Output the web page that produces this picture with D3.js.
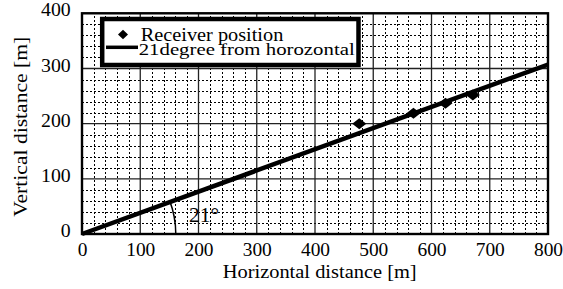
<!DOCTYPE html>
<html><head><meta charset="utf-8">
<script src="https://cdn.jsdelivr.net/npm/d3@7"></script>
<style>body{margin:0;background:#fff}svg{display:block}</style>
</head><body><svg id="c" width="563" height="289"></svg>
<script>
const receiverX = [476, 569, 624, 671];
const receiverY = [200, 219, 237, 252];
const lineAngleDeg = 21;
const lineX = [0, 800];
const xTicks = [0,100,200,300,400,500,600,700,800];
const yTicks = [0,100,200,300,400];
const legendLabels = ["Receiver position", "21degree from horozontal"];
const FONT = "Liberation Serif";

const svg = d3.select("#c");
const x = d3.scaleLinear().domain([0,800]).range([82, 548]);
const y = d3.scaleLinear().domain([0,400]).range([234, 13.3]);

const g = svg.append("g");
d3.range(20,800,20).filter(v=>v%100!==0).forEach(v=>{
  g.append("line").attr("x1",Math.round(x(v))+0.5).attr("x2",Math.round(x(v))+0.5).attr("y1",y(0)).attr("y2",y(400))
   .attr("stroke","#000").attr("stroke-width",1).attr("stroke-dasharray","2,2");
});
d3.range(20,400,20).filter(v=>v%100!==0).forEach(v=>{
  g.append("line").attr("y1",Math.round(y(v))+0.5).attr("y2",Math.round(y(v))+0.5).attr("x1",x(0)).attr("x2",x(800))
   .attr("stroke","#000").attr("stroke-width",1).attr("stroke-dasharray","2,2");
});
xTicks.forEach(v=>{
  g.append("line").attr("x1",x(v)).attr("x2",x(v)).attr("y1",y(0)).attr("y2",y(400))
   .attr("stroke","#222").attr("stroke-width",1.3);
});
yTicks.forEach(v=>{
  g.append("line").attr("y1",y(v)).attr("y2",y(v)).attr("x1",x(0)).attr("x2",x(800))
   .attr("stroke","#222").attr("stroke-width",1.3);
});
g.append("rect").attr("x",x(0)).attr("y",y(400)).attr("width",x(800)-x(0)).attr("height",y(0)-y(400))
 .attr("fill","none").attr("stroke","#000").attr("stroke-width",2.4);

const fmt = d3.format("d");
const xa = svg.append("g").attr("transform",`translate(0,${y(0)})`)
  .call(d3.axisBottom(x).tickValues(xTicks).tickSize(0).tickPadding(9).tickFormat(fmt));
xa.attr("font-family",FONT).attr("font-size",18);
xa.select(".domain").remove();
xa.selectAll("text").attr("fill","#000").attr("textLength",d=>fmt(d).length*9.7).attr("lengthAdjust","spacingAndGlyphs");
const ya = svg.append("g").attr("transform",`translate(${x(0)},0)`)
  .call(d3.axisLeft(y).tickValues(yTicks).tickSize(0).tickPadding(11.3).tickFormat(fmt));
ya.attr("font-family",FONT).attr("font-size",18);
ya.select(".domain").remove();
ya.selectAll("text").attr("fill","#000").attr("dy","0.14em").attr("textLength",d=>fmt(d).length*9.9).attr("lengthAdjust","spacingAndGlyphs");

svg.append("text").attr("x",319.7).attr("y",278).attr("text-anchor","middle")
  .attr("font-family",FONT).attr("font-size",18).attr("textLength",194).attr("lengthAdjust","spacingAndGlyphs")
  .text("Horizontal distance [m]");
svg.append("text").attr("transform",`translate(27,126.7) rotate(-90)`).attr("text-anchor","middle")
  .attr("font-family",FONT).attr("font-size",19).attr("textLength",180).attr("lengthAdjust","spacingAndGlyphs")
  .text("Vertical distance [m]");

const t = Math.tan(lineAngleDeg*Math.PI/180);
svg.append("line").attr("x1",x(lineX[0])).attr("y1",y(lineX[0]*t)).attr("x2",x(lineX[1])).attr("y2",y(lineX[1]*t))
  .attr("stroke","#000").attr("stroke-width",4.5);

const r = x(161)-x(0);
const a = lineAngleDeg*Math.PI/180;
svg.append("path").attr("d",`M${x(0)+r},${y(0)} A${r},${r} 0 0 0 ${x(0)+r*Math.cos(a)},${y(0)-r*Math.sin(a)}`)
  .attr("fill","none").attr("stroke","#000").attr("stroke-width",1.5);
svg.append("text").attr("x",189).attr("y",222).attr("font-family",FONT).attr("font-size",21)
  .attr("textLength",30).attr("lengthAdjust","spacingAndGlyphs").text("21°");

const sq = d3.symbol().type(d3.symbolSquare).size(72);
receiverX.forEach((v,i)=>{
  svg.append("path").attr("d",sq()).attr("transform",`translate(${x(v)},${y(receiverY[i])}) scale(1.17,0.92) rotate(45)`).attr("fill","#000");
});

const lg = svg.append("g");
lg.append("rect").attr("x",102.2).attr("y",19).attr("width",256.3).attr("height",46)
  .attr("fill","#fff").attr("stroke","#000").attr("stroke-width",4.5);
lg.append("path").attr("d",d3.symbol().type(d3.symbolSquare).size(50)()).attr("transform","translate(123,34.5) scale(1,0.93) rotate(45)").attr("fill","#000");
lg.append("line").attr("x1",106).attr("x2",138).attr("y1",47.3).attr("y2",47.3).attr("stroke","#000").attr("stroke-width",3.5);
lg.append("text").attr("x",140.7).attr("y",41.3).attr("font-family",FONT).attr("font-size",18.6)
  .attr("textLength",142.6).attr("lengthAdjust","spacingAndGlyphs").text(legendLabels[0]);
lg.append("text").attr("x",138.7).attr("y",54.5).attr("font-family",FONT).attr("font-size",16.5)
  .attr("textLength",216).attr("lengthAdjust","spacingAndGlyphs").text(legendLabels[1]);
</script></body></html>
